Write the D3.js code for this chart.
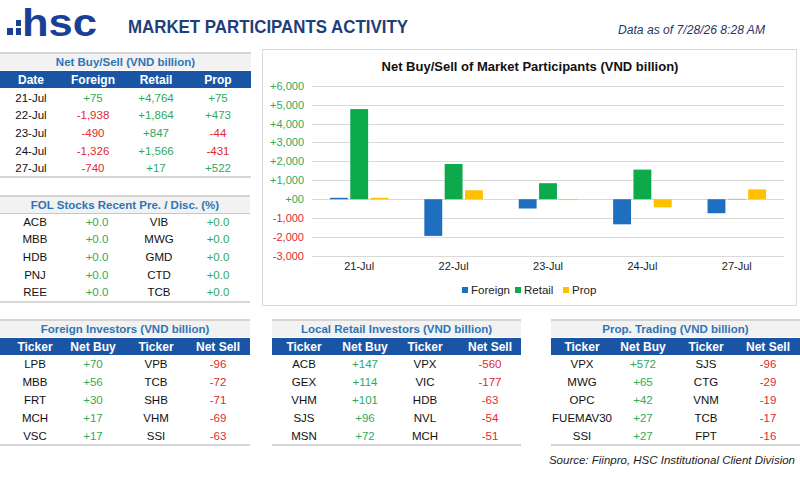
<!DOCTYPE html>
<html><head><meta charset="utf-8">
<script src="https://cdn.jsdelivr.net/npm/d3@7"></script>
<style>
html,body{margin:0;padding:0;background:#fff;}
svg{display:block;font-family:"Liberation Sans",Arial,sans-serif;}
</style></head>
<body><svg id="c" width="800" height="479"></svg>
<script>
// ---- data ----
const dates = ["21-Jul","22-Jul","23-Jul","24-Jul","27-Jul"];
const seriesNames = ["Foreign","Retail","Prop"];
const foreignNet = [75,-1938,-490,-1326,-740];
const retailNet = [4764,1864,847,1566,17];
const propNet = [75,473,-44,-431,522];
const yTicks = [-3000,-2000,-1000,0,1000,2000,3000,4000,5000,6000];

const folLeftTickers = ["ACB","MBB","HDB","PNJ","REE"];
const folLeftValues = [0.0,0.0,0.0,0.0,0.0];
const folRightTickers = ["VIB","MWG","GMD","CTD","TCB"];
const folRightValues = [0.0,0.0,0.0,0.0,0.0];

const foreignBuyTickers = ["LPB","MBB","FRT","MCH","VSC"];
const foreignBuyValues = [70,56,30,17,17];
const foreignSellTickers = ["VPB","TCB","SHB","VHM","SSI"];
const foreignSellValues = [-96,-72,-71,-69,-63];

const retailBuyTickers = ["ACB","GEX","VHM","SJS","MSN"];
const retailBuyValues = [147,114,101,96,72];
const retailSellTickers = ["VPX","VIC","HDB","NVL","MCH"];
const retailSellValues = [-560,-177,-63,-54,-51];

const propBuyTickers = ["VPX","MWG","OPC","FUEMAV30","SSI"];
const propBuyValues = [572,65,42,27,27];
const propSellTickers = ["SJS","CTG","VNM","TCB","FPT"];
const propSellValues = [-96,-29,-19,-17,-16];

// ---- styles ----
const NAVY = "#1B3F96", HDR = "#1A55A5", TITLEBLUE = "#2E75B6";
const GREEN = "#2EAA5C", RED = "#E02A2F";
const BARC = ["#1F6FC0","#0DAA4C","#FFC000"];
const svg = d3.select("#c");

const signFmt = v => ((v>0?"+":"") + d3.format(",")(v)).replace("\u2212","-");
const colOf = v => v<0 ? RED : GREEN;

// ---- header ----
svg.append("rect").attr("x",7).attr("y",28).attr("width",6).attr("height",7).attr("fill",NAVY);
svg.append("rect").attr("x",16).attr("y",20).attr("width",5).attr("height",6).attr("fill",NAVY);
svg.append("rect").attr("x",16).attr("y",28).attr("width",5).attr("height",7).attr("fill",NAVY);
svg.append("text").attr("x",22).attr("y",36).attr("font-size",39.5).attr("font-weight","bold")
  .attr("fill",NAVY).attr("textLength",75).attr("lengthAdjust","spacingAndGlyphs").text("hsc");
svg.append("text").attr("x",128).attr("y",33).attr("font-size",18).attr("font-weight","bold")
  .attr("fill","#1F3E7A").attr("textLength",280).attr("lengthAdjust","spacingAndGlyphs")
  .text("MARKET PARTICIPANTS ACTIVITY");
svg.append("text").attr("x",618).attr("y",34).attr("font-size",12.5).attr("font-style","italic")
  .attr("fill","#1F3864").attr("textLength",147).attr("lengthAdjust","spacingAndGlyphs")
  .text("Data as of  7/28/26 8:28 AM");

// ---- table helper ----
function table(opt){
  const g = svg.append("g");
  const {x0,x1,top,title,header,rows,cols,rowY,bottom} = opt;
  g.append("rect").attr("x",x0).attr("y",top).attr("width",x1-x0).attr("height",17).attr("fill","#F2F2F2");
  g.append("line").attr("x1",x0).attr("x2",x1).attr("y1",top).attr("y2",top).attr("stroke","#C8C8C8").attr("stroke-width",1.5);
  g.append("text").attr("x",(x0+x1)/2).attr("y",top+12.5).attr("text-anchor","middle")
    .attr("font-size",11.5).attr("font-weight","bold").attr("fill",TITLEBLUE).text(title);
  if(header){
    g.append("rect").attr("x",x0).attr("y",top+18).attr("width",x1-x0).attr("height",17).attr("fill",HDR);
    g.selectAll(null).data(header).join("text").attr("x",(d,i)=>cols[i]).attr("y",top+31)
      .attr("text-anchor","middle").attr("font-size",12).attr("font-weight","bold").attr("fill","#fff").text(d=>d);
  } else {
    g.append("line").attr("x1",x0).attr("x2",x1).attr("y1",top+17.5).attr("y2",top+17.5).attr("stroke","#C8C8C8").attr("stroke-width",1);
  }
  rows.forEach((r,ri)=>{
    r.forEach((cell,ci)=>{
      g.append("text").attr("x",cols[ci]).attr("y",rowY(ri)+4).attr("text-anchor","middle")
        .attr("font-size",11.5).attr("fill",cell.c||"#111").text(cell.t);
    });
  });
  g.append("line").attr("x1",x0).attr("x2",x1).attr("y1",bottom).attr("y2",bottom).attr("stroke","#C8C8C8").attr("stroke-width",1.5);
}

// Net buy/sell table
table({x0:0,x1:251,top:53,title:"Net Buy/Sell (VND billion)",header:["Date","Foreign","Retail","Prop"],
  cols:[31,93,156,218],rowY:i=>97.5+i*17.7,bottom:177,
  rows:dates.map((d,i)=>[{t:d},{t:signFmt(foreignNet[i]),c:colOf(foreignNet[i])},{t:signFmt(retailNet[i]),c:colOf(retailNet[i])},{t:signFmt(propNet[i]),c:colOf(propNet[i])}])});

// FOL table
const f1 = d3.format("+.1f");
table({x0:0,x1:250,top:196,title:"FOL Stocks Recent Pre. / Disc. (%)",header:null,
  cols:[35,97,159,218],rowY:i=>221.5+i*17.7,bottom:302,
  rows:folLeftTickers.map((t,i)=>[{t},{t:f1(folLeftValues[i]),c:GREEN},{t:folRightTickers[i]},{t:f1(folRightValues[i]),c:GREEN}])});

function tickerRows(bt,bv,st,sv){
  return bt.map((t,i)=>[{t},{t:signFmt(bv[i]),c:GREEN},{t:st[i]},{t:signFmt(sv[i]),c:RED}]);
}
const hdr4 = ["Ticker","Net Buy","Ticker","Net Sell"];
const rowY2 = i=>364+i*17.9;
table({x0:0,x1:250,top:320,title:"Foreign Investors (VND billion)",header:hdr4,cols:[35,93,156,218],rowY:rowY2,bottom:445,
  rows:tickerRows(foreignBuyTickers,foreignBuyValues,foreignSellTickers,foreignSellValues)});
table({x0:272,x1:521,top:320,title:"Local Retail Investors (VND billion)",header:hdr4,cols:[304,365,425,490],rowY:rowY2,bottom:445,
  rows:tickerRows(retailBuyTickers,retailBuyValues,retailSellTickers,retailSellValues)});
table({x0:551,x1:800,top:320,title:"Prop. Trading (VND billion)",header:hdr4,cols:[582,643,706,768],rowY:rowY2,bottom:445,
  rows:tickerRows(propBuyTickers,propBuyValues,propSellTickers,propSellValues)});

svg.append("text").attr("x",795).attr("y",464).attr("text-anchor","end").attr("font-size",11.5)
  .attr("font-style","italic").attr("fill","#222").text("Source: Fiinpro, HSC Institutional Client Division");

// ---- chart ----
svg.append("rect").attr("x",262.5).attr("y",49.5).attr("width",534).attr("height",256).attr("fill","#fff").attr("stroke","#D9D9D9");
svg.append("text").attr("x",530).attr("y",71).attr("text-anchor","middle").attr("font-size",13).attr("font-weight","bold")
  .attr("fill","#111").text("Net Buy/Sell of Market Participants (VND billion)");

const y = d3.scaleLinear().domain([-3000,6000]).range([256,85.7]);
const x0s = d3.scaleBand().domain(dates).range([312,784]).paddingInner(0).paddingOuter(0);
const x1s = d3.scaleBand().domain(seriesNames).range([0,x0s.bandwidth()*0.62]).paddingInner(0.12);
const off = (x0s.bandwidth()-x0s.bandwidth()*0.62)/2;

const grid = svg.append("g");
grid.selectAll("line").data(yTicks).join("line").attr("x1",312).attr("x2",784)
  .attr("y1",d=>Math.round(y(d))+0.5).attr("y2",d=>Math.round(y(d))+0.5).attr("stroke","#D9D9D9");
const yAxis = d3.axisLeft(y).tickValues(yTicks).tickSize(0).tickPadding(0)
  .tickFormat(d=> d===0 ? "+00" : signFmt(d));
const ya = svg.append("g").attr("transform","translate(304,0)").call(yAxis);
ya.select(".domain").remove();
ya.selectAll("text").attr("font-size",11).attr("font-family","Liberation Sans, Arial, sans-serif")
  .attr("fill",d=>d<0?RED:GREEN);

const vals = [foreignNet,retailNet,propNet];
const data = [];
dates.forEach((d,i)=>seriesNames.forEach((s,j)=>data.push({d,s,j,v:vals[j][i]})));
svg.append("g").selectAll("rect").data(data).join("rect")
  .attr("x",e=>x0s(e.d)+off+x1s(e.s)).attr("width",x1s.bandwidth())
  .attr("y",e=>y(Math.max(0,e.v))).attr("height",e=>Math.abs(y(e.v)-y(0)))
  .attr("fill",e=>BARC[e.j]);

const xAxis = d3.axisBottom(x0s).tickSize(0).tickPadding(0);
const xa = svg.append("g").attr("transform","translate(0,262)").call(xAxis);
xa.select(".domain").remove();
xa.selectAll("text").attr("font-size",11).attr("fill","#222").attr("font-family","Liberation Sans, Arial, sans-serif");

// legend
const lg = svg.append("g");
const lx = [462,515,563];
seriesNames.forEach((s,j)=>{
  lg.append("rect").attr("x",lx[j]).attr("y",287).attr("width",6).attr("height",6).attr("fill",BARC[j]);
  lg.append("text").attr("x",lx[j]+9).attr("y",294).attr("font-size",11.5).attr("fill","#222").text(s);
});
</script></body></html>
